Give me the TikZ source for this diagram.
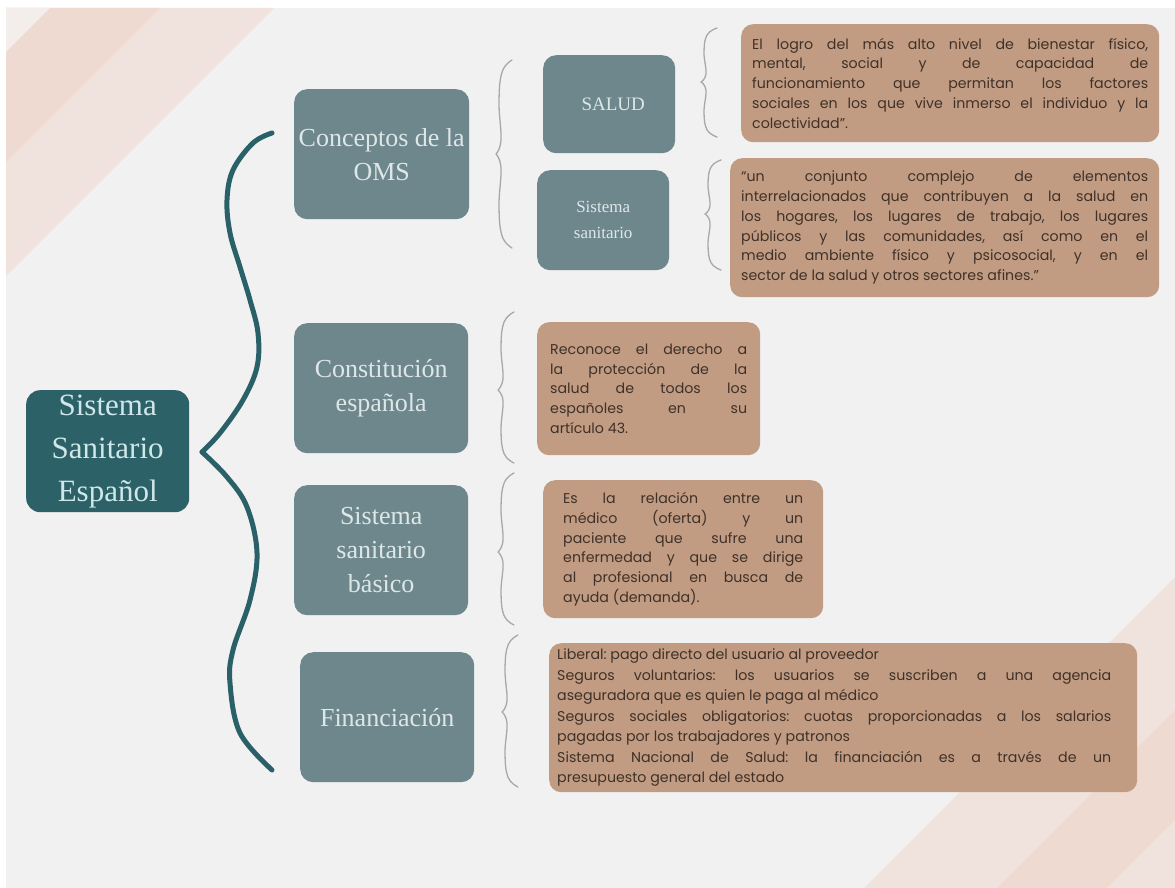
\documentclass[tikz,border=0pt]{standalone}
\usepackage{fontspec}
\setmainfont{Liberation Serif}
\newfontfamily\bodyfont{Poppins}
\definecolor{bg}{HTML}{F1F1F1}
\definecolor{rootc}{HTML}{2D6168}
\definecolor{roottext}{HTML}{CFE7E9}
\definecolor{slate}{HTML}{6E878D}
\definecolor{slatetext}{HTML}{DDE7E8}
\definecolor{tan}{HTML}{C19C82}
\definecolor{tantext}{HTML}{3F3129}
\definecolor{pinkA}{HTML}{EFDAD2}
\definecolor{pinkB}{HTML}{F0E3DE}
\definecolor{pinkC}{HTML}{F3EDEB}
\definecolor{tealline}{HTML}{2A6068}
\definecolor{bracec}{HTML}{A8A8A8}
\tikzset{
  rootbox/.style={fill=rootc, rounded corners=14pt, text=roottext, align=center, inner sep=0pt, anchor=north west,
     font=\fontsize{31}{43}\selectfont},
  slatebox/.style={fill=slate, rounded corners=13pt, text=slatetext, align=center, inner sep=0pt, anchor=north west,
     font=\fontsize{26}{34}\selectfont},
  smallslate/.style={slatebox, font=\fontsize{19}{26}\selectfont},
  tanbox/.style={fill=tan, rounded corners=12pt, text=tantext, align=justify, inner sep=0pt, anchor=north west,
     font=\bodyfont\fontsize{14.2}{19.8}\selectfont\frenchspacing},
  bigbrace/.style={draw=tealline, line width=5pt, line cap=round, line join=round},
  smallbrace/.style={draw=bracec, line width=1.3pt, line cap=round},
}
% small brace: x, ytop, ymid, ybot
\newcommand\smbrace[4]{%
  \draw[smallbrace] plot[smooth, tension=0.7] coordinates {({#1+16},{#2}) ({#1+6},{#2+0.13*(#3-#2)}) ({#1+3},{#2+0.45*(#3-#2)}) ({#1+5},{#2+0.85*(#3-#2)}) ({#1},{#3})};
  \draw[smallbrace] plot[smooth, tension=0.7] coordinates {({#1},{#3}) ({#1+5},{#3+0.15*(#4-#3)}) ({#1+3},{#3+0.55*(#4-#3)}) ({#1+6},{#3+0.87*(#4-#3)}) ({#1+16},{#4})};
}
\begin{document}
\begin{tikzpicture}[x=1pt,y=-1pt]
\useasboundingbox (0,0) rectangle (1175,888);
\fill[white] (0,0) rectangle (1175,888);
\fill[bg] (6,8) rectangle (1175,888);
% decorative stripes
\begin{scope}
\clip (6,8) rectangle (1175,888);
\fill[pinkB] (6,8) -- (274,8) -- (6,276) -- cycle;
\fill[pinkA] (6,8) -- (160,8) -- (6,162) -- cycle;
\fill[pinkC] (6,8) -- (50,8) -- (6,52) -- cycle;
\fill[pinkB] (1175,577) -- (1175,888) -- (864,888) -- cycle;
\fill[pinkA] (1175,710) -- (1175,888) -- (997,888) -- cycle;
\fill[pinkB] (1175,820) -- (1175,888) -- (1107,888) -- cycle;
\end{scope}

% root
\node[rootbox, minimum width=163pt, minimum height=122pt] (root) at (26,390) {Sistema\\Sanitario\\Español};

% level 1
\node[slatebox, minimum width=175pt, minimum height=130pt] (oms) at (294,89) {Conceptos de la\\OMS};
\node[slatebox, minimum width=174pt, minimum height=130pt] (const) at (294,323) {Constitución\\española};
\node[slatebox, minimum width=174pt, minimum height=130pt] (basico) at (294,485) {Sistema\\sanitario\\básico};
\node[slatebox, minimum width=174pt, minimum height=130pt] (fin) at (300,652) {Financiación};

% level 2
\node[smallslate, minimum width=132pt, minimum height=98pt] (salud) at (543,55) {\hspace*{8pt}SALUD};
\node[smallslate, minimum width=132pt, minimum height=100pt, font=\fontsize{17}{26}\selectfont] (sistsan) at (537,170) {Sistema\\sanitario};

% descriptions
\node[tanbox, minimum width=418pt, minimum height=118pt, text width=396pt] (d1) at (741,24)
 {El logro del más alto nivel de bienestar físico,\linebreak mental, social y de capacidad de\linebreak funcionamiento que permitan los factores\linebreak sociales en los que vive inmerso el individuo y la\linebreak colectividad”.};
\node[tanbox, minimum width=429pt, minimum height=139pt, text width=407pt] (d2) at (730,158)
 {“un conjunto complejo de elementos\linebreak interrelacionados que contribuyen a la salud en\linebreak los hogares, los lugares de trabajo, los lugares\linebreak públicos y las comunidades, así como en el\linebreak medio ambiente físico y psicosocial, y en el\linebreak sector de la salud y otros sectores afines.”};
\node[tanbox, minimum width=223pt, minimum height=133pt, text width=197pt] (d3) at (537,322)
 {Reconoce el derecho a\linebreak la protección de la\linebreak salud de todos los\linebreak españoles en su\linebreak artículo 43.};
\node[tanbox, minimum width=280pt, minimum height=138pt, text width=240pt] (d4) at (543,480)
 {Es la relación entre un\linebreak médico (oferta) y un\linebreak paciente que sufre una\linebreak enfermedad y que se dirige\linebreak al profesional en busca de\linebreak ayuda (demanda).};
\node[tanbox, minimum width=588pt, minimum height=149pt, text width=572pt, font=\bodyfont\fontsize{14.2}{20.5}\selectfont\frenchspacing] (d5) at (549,643)
 {\rightskip=18pt Liberal: pago directo del usuario al proveedor\\
  Seguros voluntarios: los usuarios se suscriben a una agencia\linebreak aseguradora que es quien le paga al médico\\
  Seguros sociales obligatorios: cuotas proporcionadas a los salarios\linebreak pagadas por los trabajadores y patronos\\
  Sistema Nacional de Salud: la financiación es a través de un\linebreak presupuesto general del estado\par};

% big brace
\draw[bigbrace] plot[smooth, tension=0.6] coordinates {(272,133) (253,143) (233,170) (227,200) (230,233) (240,267) (250,300) (258,333) (257,367) (243,400) (220,433) (202,452)};
\draw[bigbrace] plot[smooth, tension=0.6] coordinates {(202,452) (227,477) (247,507) (257,553) (250,600) (233,650) (230,683) (240,733) (272,770)};

% small braces
\smbrace{496}{60}{154}{248}
\smbrace{701}{28}{82}{137}
\smbrace{705}{160}{214}{270}
\smbrace{498}{312}{390}{463}
\smbrace{498}{473}{552}{625}
\smbrace{502}{635}{712}{787}
\end{tikzpicture}
\end{document}
